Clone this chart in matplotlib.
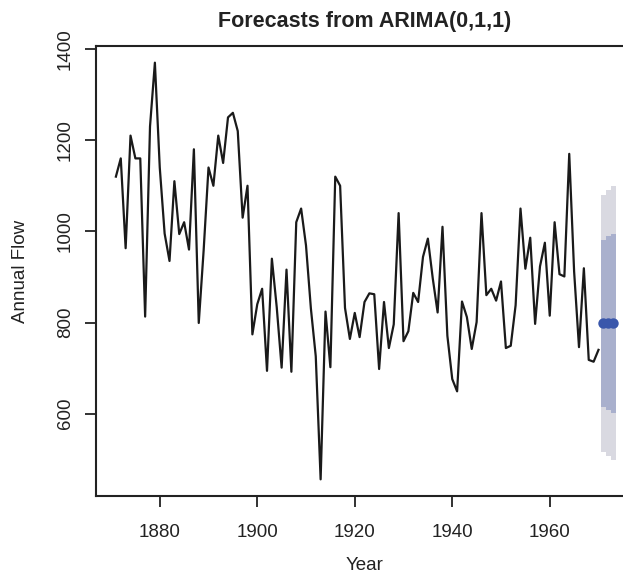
import matplotlib
matplotlib.use("Agg")
import matplotlib.pyplot as plt
import numpy as np

plt.rcParams['font.family'] = ['Liberation Sans', 'DejaVu Sans']

years = list(range(1871, 1971))
flow = [1120, 1160, 963, 1210, 1160, 1160, 813, 1230, 1370, 1140, 995, 935, 1110, 994, 1020,
        960, 1180, 799, 958, 1140, 1100, 1210, 1150, 1250, 1260, 1220, 1030, 1100, 774, 840,
        874, 694, 940, 833, 701, 916, 692, 1020, 1050, 969, 831, 726, 456, 824, 702, 1120,
        1100, 832, 764, 821, 768, 845, 864, 862, 698, 845, 744, 796, 1040, 759, 781, 865,
        845, 944, 984, 897, 822, 1010, 771, 676, 649, 846, 812, 742, 801, 1040, 860, 874,
        848, 890, 744, 749, 838, 1050, 918, 986, 797, 923, 975, 815, 1020, 906, 901, 1170,
        912, 746, 919, 718, 714, 740]

fc_years = [1971, 1972, 1973]
fc_mean = [798.4, 798.4, 798.4]
lo80 = [614, 608, 602]
hi80 = [982, 989, 995]
lo95 = [517, 507, 498]
hi95 = [1080, 1090, 1099]

W, H = 623, 573
fig = plt.figure(figsize=(W / 100, H / 100), dpi=100)
ax = fig.add_axes([96 / W, 1 - 496 / H, (633 - 96) / W, (496 - 46) / H])

for i, y in enumerate(fc_years):
    ax.fill_between([y - 0.5, y + 0.5], [lo95[i]] * 2, [hi95[i]] * 2, color='#d9d9e1', lw=0)
for i, y in enumerate(fc_years):
    ax.fill_between([y - 0.5, y + 0.5], [lo80[i]] * 2, [hi80[i]] * 2, color='#a9b0cd', lw=0)

ax.plot(years, flow, color='#1a1a1a', lw=1.6)
ax.plot(fc_years, fc_mean, 'o', color='#3a57ab', ms=7.5, mec='none')

allvals = flow + lo95 + hi95
ymin, ymax = min(allvals), max(allvals)
r = ymax - ymin
ax.set_ylim(ymin - 0.04 * r, ymax + 0.04 * r)
xr = fc_years[-1] - years[0]
ax.set_xlim(years[0] - 0.04 * xr, fc_years[-1] + 0.04 * xr)

ax.set_xticks([1880, 1900, 1920, 1940, 1960])
ax.set_yticks([600, 800, 1000, 1200, 1400])
ax.set_yticklabels(['600', '800', '1000', '1200', '1400'], rotation=90, va='center')
ax.tick_params(axis='both', direction='out', length=8, width=1.3, labelsize=13.5,
               colors='#222222')
ax.tick_params(axis='x', pad=12)
ax.tick_params(axis='y', pad=8)
for s in ax.spines.values():
    s.set_linewidth(1.5)
    s.set_color('#222222')

ax.set_title('Forecasts from ARIMA(0,1,1)', fontsize=15.5, fontweight='bold', pad=14,
             color='#222222')
ax.set_xlabel('Year', fontsize=13.5, labelpad=12, color='#222222')
ax.set_ylabel('Annual Flow', fontsize=13.5, labelpad=20, color='#222222')

fig.savefig('out.png', dpi=100)
